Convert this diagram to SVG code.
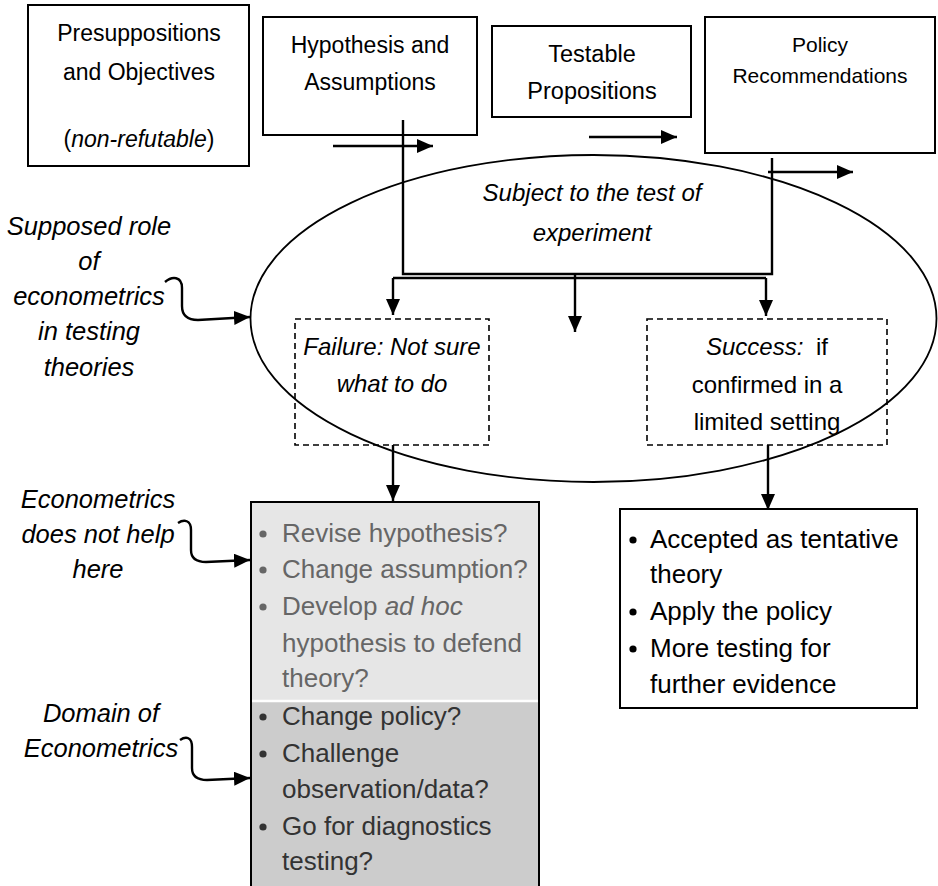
<svg xmlns="http://www.w3.org/2000/svg" width="938" height="886" viewBox="0 0 938 886">
<defs>
<marker id="ah" viewBox="0 0 16 14" refX="16" refY="7" markerWidth="16" markerHeight="14" markerUnits="userSpaceOnUse" orient="auto">
<path d="M0,0 L16,7 L0,14 z" fill="#000"/>
</marker>
</defs>
<style>
text{font-family:"Liberation Sans",Arial,sans-serif;fill:#000}
.c{text-anchor:middle}
.i{font-style:italic}
.box{fill:#fff;stroke:#000;stroke-width:2}
.dash{fill:none;stroke:#000;stroke-width:1.6;stroke-dasharray:6,4}
.ln{fill:none;stroke:#000;stroke-width:2.4}
.ar{fill:none;stroke:#000;stroke-width:2.4;marker-end:url(#ah)}
.curl{fill:none;stroke:#000;stroke-width:2.4;marker-end:url(#ah)}
</style>

<g id="ellipse">
<ellipse cx="593.5" cy="318.5" rx="343" ry="163.5" fill="none" stroke="#000" stroke-width="1.8"/>
<text class="c i" x="592" y="201" font-size="24">Subject to the test of</text>
<text class="c i" x="592" y="241" font-size="24">experiment</text>
</g>

<g id="presuppositions">
<rect class="box" x="28" y="5" width="221" height="161"/>
<text class="c" x="139" y="41" font-size="23">Presuppositions</text>
<text class="c" x="139" y="80" font-size="23">and Objectives</text>
<text class="c" x="139" y="147" font-size="23">(<tspan class="i">non-refutable</tspan>)</text>
</g>

<g id="hypothesis">
<rect class="box" x="263" y="17" width="214" height="118"/>
<text class="c" x="370" y="53" font-size="23">Hypothesis and</text>
<text class="c" x="370" y="90" font-size="23">Assumptions</text>
</g>

<g id="testable">
<rect class="box" x="492" y="26" width="199" height="91"/>
<text class="c" x="592" y="62" font-size="23.5">Testable</text>
<text class="c" x="592" y="99" font-size="23.5">Propositions</text>
</g>

<g id="policy">
<rect class="box" x="705" y="17" width="230" height="136"/>
<text class="c" x="820" y="52" font-size="21">Policy</text>
<text class="c" x="820" y="83" font-size="21">Recommendations</text>
</g>

<g id="failure">
<rect class="dash" x="295" y="319" width="194" height="126"/>
<text class="c i" x="392" y="355" font-size="24">Failure: Not sure</text>
<text class="c i" x="392" y="392" font-size="24">what to do</text>
</g>

<g id="success">
<rect class="dash" x="647" y="319" width="240" height="126"/>
<text class="c" x="767" y="355" font-size="24"><tspan class="i">Success:</tspan><tspan dx="6"> if</tspan></text>
<text class="c" x="767" y="393" font-size="24">confirmed in a</text>
<text class="c" x="767" y="430" font-size="24">limited setting</text>
</g>

<g id="options">
<rect x="251" y="502" width="288" height="199" fill="#e6e6e6"/>
<rect x="251" y="701" width="288" height="190" fill="#cccccc"/>
<line x1="251" y1="701" x2="539" y2="701" stroke="#fff" stroke-width="2.5"/>
<path d="M251,890 V502 H539 V890" fill="none" stroke="#000" stroke-width="2"/>
<g font-size="26" fill="#666">
<circle cx="263" cy="534" r="3.6" fill="#666"/>
<text x="282" y="542" style="fill:#666">Revise hypothesis?</text>
<circle cx="263" cy="570" r="3.6" fill="#666"/>
<text x="282" y="578" style="fill:#666">Change assumption?</text>
<circle cx="263" cy="607" r="3.6" fill="#666"/>
<text x="282" y="615" style="fill:#666">Develop <tspan class="i">ad hoc</tspan></text>
<text x="282" y="652" style="fill:#666">hypothesis to defend</text>
<text x="282" y="687" style="fill:#666">theory?</text>
</g>
<g font-size="26">
<circle cx="263" cy="717" r="3.6" fill="#333"/>
<text x="282" y="725" style="fill:#333">Change policy?</text>
<circle cx="263" cy="754" r="3.6" fill="#333"/>
<text x="282" y="762" style="fill:#333">Challenge</text>
<text x="282" y="798" style="fill:#333">observation/data?</text>
<circle cx="263" cy="827" r="3.6" fill="#333"/>
<text x="282" y="835" style="fill:#333">Go for diagnostics</text>
<text x="282" y="870" style="fill:#333">testing?</text>
</g>
</g>

<g id="accepted">
<rect class="box" x="620" y="509" width="297" height="199"/>
<g font-size="26">
<circle cx="633" cy="540" r="3.6" fill="#000"/>
<text x="650" y="548">Accepted as tentative</text>
<text x="650" y="583">theory</text>
<circle cx="633" cy="612" r="3.6" fill="#000"/>
<text x="650" y="620">Apply the policy</text>
<circle cx="633" cy="649" r="3.6" fill="#000"/>
<text x="650" y="657">More testing for</text>
<text x="650" y="693">further evidence</text>
</g>
</g>

<g id="label-supposed">
<text class="c i" x="89" y="235" font-size="25.5">Supposed role</text>
<text class="c i" x="89" y="270" font-size="25.5">of</text>
<text class="c i" x="89" y="305" font-size="25.5">econometrics</text>
<text class="c i" x="89" y="340" font-size="25.5">in testing</text>
<text class="c i" x="89" y="376" font-size="25.5">theories</text>
</g>

<g id="label-nohelp">
<text class="c i" x="98" y="508" font-size="25.5">Econometrics</text>
<text class="c i" x="98" y="543" font-size="25.5">does not help</text>
<text class="c i" x="98" y="578" font-size="25.5">here</text>
</g>

<g id="label-domain">
<text class="c i" x="101" y="722" font-size="25.5">Domain of</text>
<text class="c i" x="101" y="757" font-size="25.5">Econometrics</text>
</g>

<g id="connectors">
<path class="ln" d="M403,120 V274 H772 V158"/>
<path class="ln" d="M393,278 H766"/>
<path class="ar" d="M393,278 V315"/>
<path class="ar" d="M766,278 V316"/>
<path class="ar" d="M575,274 V332"/>
<path class="ar" d="M333,146 H433"/>
<path class="ar" d="M589,137 H677"/>
<path class="ar" d="M768,172 H853"/>
<path class="ar" d="M393,445 V501"/>
<path class="ar" d="M768,445 V510"/>
<path class="curl" d="M165,282 C172,276 182,276 182,288 L182,306 C182,316 188,320 198,320 L250,317"/>
<path class="curl" d="M178,523 C184,519 191,520 191,530 L191,550 C191,558 196,562 206,562 L250,560"/>
<path class="curl" d="M180,740 C186,736 192,737 192,747 L192,768 C192,776 197,780 207,780 L250,778"/>
</g>
</svg>
